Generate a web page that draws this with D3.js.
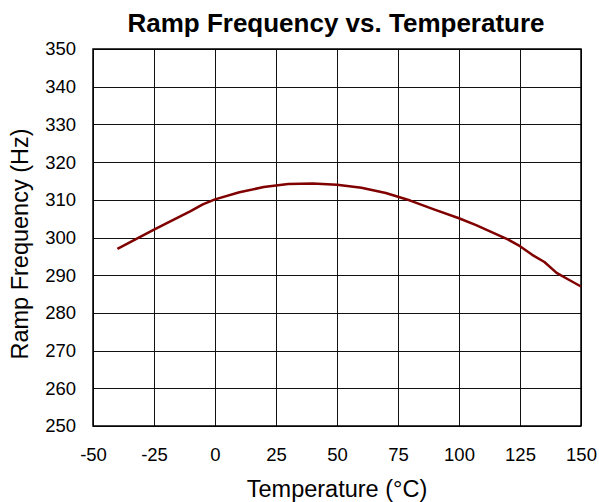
<!DOCTYPE html>
<html>
<head>
<meta charset="utf-8">
<script src="https://cdn.jsdelivr.net/npm/d3@7"></script>
<style>
  html, body { margin: 0; padding: 0; background: #fff; }
  svg { display: block; }
</style>
</head>
<body>
<svg id="chart" width="599" height="502"></svg>
<script>
const temperatures = [-40, -25, -10, -5, 0, 10, 20, 30, 40, 50, 60, 70, 80, 90, 100, 107, 120, 125, 130, 135, 140, 145, 150];
const frequencies  = [297.0, 302.1, 307.0, 308.8, 310.1, 312.0, 313.4, 314.2, 314.3, 314.0, 313.2, 311.8, 309.8, 307.4, 305.1, 303.3, 299.5, 297.7, 295.4, 293.5, 290.6, 288.8, 287.0];
const xTicks = [-50, -25, 0, 25, 50, 75, 100, 125, 150];
const yTicks = [250, 260, 270, 280, 290, 300, 310, 320, 330, 340, 350];
const titleText = "Ramp Frequency vs. Temperature";
const xLabel = "Temperature (°C)";
const yLabel = "Ramp Frequency (Hz)";

const svg = d3.select("#chart");
const W = 599, H = 502;
const margin = { left: 93, right: W - 581, top: 49, bottom: H - 426 };
const x = d3.scaleLinear().domain([-50, 150]).range([margin.left, W - margin.right]);
const y = d3.scaleLinear().domain([250, 350]).range([H - margin.bottom, margin.top]);
const font = "Arial, 'Liberation Sans', Helvetica, sans-serif";

// grid
const grid = svg.append("g");
grid.selectAll("line.v").data(xTicks).join("line")
  .attr("x1", d => Math.round(x(d)) + 0.5).attr("x2", d => Math.round(x(d)) + 0.5)
  .attr("y1", y(250)).attr("y2", y(350))
  .attr("stroke", "#111").attr("stroke-width", 1);
grid.selectAll("line.h").data(yTicks).join("line")
  .attr("y1", d => Math.round(y(d)) + 0.5).attr("y2", d => Math.round(y(d)) + 0.5)
  .attr("x1", x(-50)).attr("x2", x(150))
  .attr("stroke", "#111").attr("stroke-width", 1);

// frame
svg.append("rect")
  .attr("x", x(-50)).attr("y", y(350))
  .attr("width", x(150) - x(-50)).attr("height", y(250) - y(350))
  .attr("fill", "none").attr("stroke", "#000").attr("stroke-width", 1.5);

// axes
const xAxis = d3.axisBottom(x).tickValues(xTicks).tickSize(0).tickPadding(22).tickFormat(d => String(d));
svg.append("g").attr("transform", `translate(0,${y(250)})`).call(xAxis)
  .call(g => g.select(".domain").remove())
  .selectAll("text").attr("font-family", font).attr("font-size", 18.5).attr("fill", "#000");

const yAxis = d3.axisLeft(y).tickValues(yTicks).tickSize(0).tickPadding(17).tickFormat(d => String(d));
svg.append("g").attr("transform", `translate(${x(-50)},0)`).call(yAxis)
  .call(g => g.select(".domain").remove())
  .selectAll("text").attr("font-family", font).attr("font-size", 18.5).attr("fill", "#000");

// line
const line = d3.line().x((d, i) => x(temperatures[i])).y(d => y(d));
svg.append("path").datum(frequencies)
  .attr("d", line)
  .attr("fill", "none").attr("stroke", "#800000").attr("stroke-width", 2.5)
  .attr("stroke-linejoin", "round");

// title
svg.append("text").attr("x", 336).attr("y", 32)
  .attr("text-anchor", "middle").attr("font-family", font)
  .attr("font-size", 26).attr("font-weight", "bold").text(titleText);

svg.append("text").attr("x", 337).attr("y", 497)
  .attr("text-anchor", "middle").attr("font-family", font)
  .attr("font-size", 23.5).text(xLabel);

svg.append("text").attr("transform", `translate(28,244) rotate(-90)`)
  .attr("text-anchor", "middle").attr("font-family", font)
  .attr("font-size", 23.5).text(yLabel);
</script>
</body>
</html>
